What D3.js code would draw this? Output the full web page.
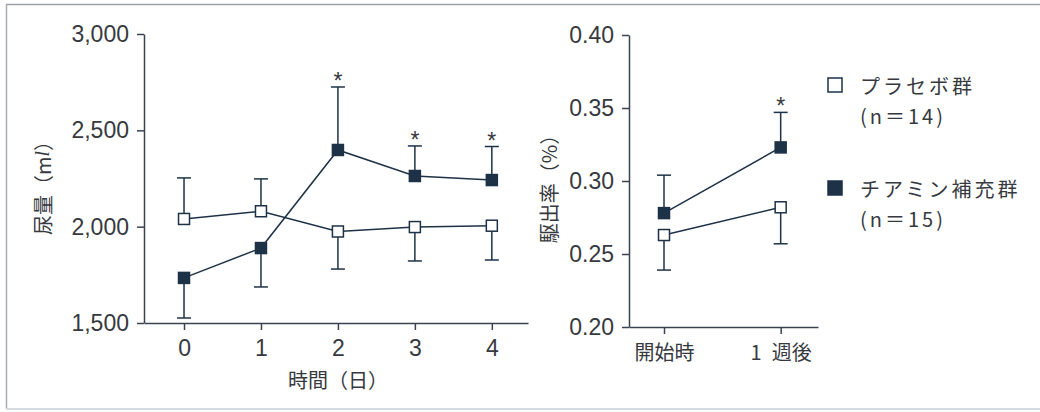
<!DOCTYPE html>
<html>
<head>
<meta charset="utf-8">
<script src="https://cdn.jsdelivr.net/npm/d3@7/dist/d3.min.js"></script>
<style>
  html, body { margin: 0; padding: 0; background: #fff; }
  svg { display: block; }
  .num { font-family: "Liberation Sans", Arial, sans-serif; font-size: 23px; fill: #36393e; }
  .jp { font-family: "Noto Sans CJK JP", sans-serif; fill: #36393e; }
</style>
</head>
<body>
<svg id="chart" width="1040" height="412"></svg>
<script>
// Urine volume by day (mean, one-sided SD bar)
const days = [0, 1, 2, 3, 4];
const placeboUrine = [2040, 2080, 1975, 1998, 2005];
const placeboUrineErr = [213, 168, 195, 176, 178];
const placeboUrineSide = [1, 1, -1, -1, -1];
const thiamineUrine = [1734, 1889, 2398, 2263, 2242];
const thiamineUrineErr = [208, 202, 327, 156, 174];
const thiamineUrineSide = [-1, -1, 1, 1, 1];
const urineSignificant = [false, false, true, true, true];
const urineTicks = [1500, 2000, 2500, 3000];

// Ejection fraction at start and after one week
const efLabels = ["開始時", "1\u2002週後"];
const placeboEF = [0.263, 0.282];
const placeboEFErr = [0.024, 0.025];
const placeboEFSide = [-1, -1];
const thiamineEF = [0.278, 0.323];
const thiamineEFErr = [0.026, 0.024];
const thiamineEFSide = [1, 1];
const efSignificant = [false, true];
const efTicks = [0.20, 0.25, 0.30, 0.35, 0.40];

const groupNames = ["プラセボ群", "チアミン補充群"];
const groupN = ["(n＝14)", "(n＝15)"];

const navy = "#1e3247";
const axisColor = "#3a4350";
const svg = d3.select("#chart");

// page frame
svg.append("line").attr("x1", 6).attr("x2", 1040).attr("y1", 4.5).attr("y2", 4.5)
  .attr("stroke", "#9a9ea3").attr("stroke-width", 1.5);
svg.append("line").attr("x1", 6.5).attr("x2", 6.5).attr("y1", 4).attr("y2", 409)
  .attr("stroke", "#a9adb2").attr("stroke-width", 1.5);
svg.append("line").attr("x1", 6).attr("x2", 1040).attr("y1", 409).attr("y2", 409)
  .attr("stroke", "#d5dde2").attr("stroke-width", 2);

function styleAxis(g) {
  g.selectAll("path.domain").attr("stroke", axisColor).attr("stroke-width", 1.5);
  g.selectAll(".tick line").attr("stroke", axisColor).attr("stroke-width", 1.5);
  g.selectAll(".tick text").attr("fill", "#36393e").attr("font-size", null).attr("font-family", null);
}

function drawSeries(g, x, y, xs, vals, errs, sides, filled) {
  const capHalf = 7;
  g.append("path")
    .datum(xs.map((d, i) => [x(d), y(vals[i])]))
    .attr("fill", "none").attr("stroke", navy).attr("stroke-width", 1.5)
    .attr("d", d3.line());
  const eb = g.append("g");
  xs.forEach((d, i) => {
    const end = y(vals[i] + sides[i] * errs[i]);
    eb.append("line").attr("x1", x(d)).attr("x2", x(d))
      .attr("y1", y(vals[i])).attr("y2", end)
      .attr("stroke", navy).attr("stroke-width", 1.5);
    eb.append("line").attr("x1", x(d) - capHalf).attr("x2", x(d) + capHalf)
      .attr("y1", end).attr("y2", end)
      .attr("stroke", navy).attr("stroke-width", 1.5);
  });
  const s = 11;
  g.append("g").selectAll("rect").data(xs).join("rect")
    .attr("x", d => x(d) - s / 2)
    .attr("y", (d, i) => y(vals[i]) - s / 2)
    .attr("width", s).attr("height", s)
    .attr("fill", filled ? navy : "#fff")
    .attr("stroke", navy).attr("stroke-width", 1.5);
}

function drawStars(g, x, y, xs, vals, errs, sides, sig) {
  xs.forEach((d, i) => {
    if (!sig[i]) return;
    const top = y(vals[i] + Math.max(0, sides[i]) * errs[i]);
    g.append("text").attr("class", "num")
      .attr("x", x(d)).attr("y", top + 2)
      .attr("text-anchor", "middle").attr("font-size", 25)
      .text("*");
  });
}

// ---- Left panel: urine volume ----
const xL = d3.scaleLinear().domain([-0.52, 4.47]).range([144, 528]);
const yL = d3.scaleLinear().domain([1500, 3000]).range([323, 34]);

const axL = svg.append("g").attr("class", "num").attr("transform", "translate(144,0)")
  .call(d3.axisLeft(yL).tickValues(urineTicks).tickFormat(d3.format(",")).tickSize(7).tickPadding(8).tickSizeOuter(0));
styleAxis(axL);
const axLB = svg.append("g").attr("class", "num").attr("transform", "translate(0,323)")
  .call(d3.axisBottom(xL).tickValues(days).tickFormat(d3.format("d")).tickSize(7).tickPadding(10).tickSizeOuter(0));
styleAxis(axLB);

const gL = svg.append("g");
drawSeries(gL, xL, yL, days, placeboUrine, placeboUrineErr, placeboUrineSide, false);
drawSeries(gL, xL, yL, days, thiamineUrine, thiamineUrineErr, thiamineUrineSide, true);
drawStars(gL, xL, yL, days, thiamineUrine, thiamineUrineErr, thiamineUrineSide, urineSignificant);

svg.append("text").attr("class", "jp").attr("font-size", 20)
  .attr("text-anchor", "middle").attr("x", 338).attr("y", 388)
  .text("時間（日）");

const yLabL = svg.append("text").attr("class", "jp").attr("font-size", 20)
  .attr("text-anchor", "middle").attr("dominant-baseline", "central")
  .attr("transform", "translate(42,183) rotate(-90)");
yLabL.append("tspan").text("尿量（m");
yLabL.append("tspan").attr("font-family", "Liberation Serif, serif").attr("font-style", "italic").text("l");
yLabL.append("tspan").text("）");

// ---- Right panel: ejection fraction ----
const idx = efLabels.map((d, i) => i);
const xR = d3.scaleLinear().domain([-0.3, 1.32]).range([629, 818]);
const yR = d3.scaleLinear().domain([0.20, 0.40]).range([327, 35]);

const axR = svg.append("g").attr("class", "num").attr("transform", "translate(629,0)")
  .call(d3.axisLeft(yR).tickValues(efTicks).tickFormat(d3.format(".2f")).tickSize(7).tickPadding(8).tickSizeOuter(0));
styleAxis(axR);
const axRB = svg.append("g").attr("class", "jp").attr("transform", "translate(0,327)")
  .call(d3.axisBottom(xR).tickValues(idx).tickFormat(i => efLabels[i]).tickSize(7).tickPadding(12).tickSizeOuter(0));
styleAxis(axRB);
axRB.selectAll(".tick text").attr("font-size", 20);

const gR = svg.append("g");
drawSeries(gR, xR, yR, idx, placeboEF, placeboEFErr, placeboEFSide, false);
drawSeries(gR, xR, yR, idx, thiamineEF, thiamineEFErr, thiamineEFSide, true);
drawStars(gR, xR, yR, idx, thiamineEF, thiamineEFErr, thiamineEFSide, efSignificant);

svg.append("text").attr("class", "jp").attr("font-size", 20)
  .attr("text-anchor", "middle").attr("dominant-baseline", "central")
  .attr("transform", "translate(548,184) rotate(-90)")
  .text("駆出率（%）");

// ---- Legend ----
const legend = svg.append("g");
const legendY = [85, 188];
[false, true].forEach((filled, i) => {
  legend.append("rect").attr("x", 828).attr("y", legendY[i] - 7)
    .attr("width", 14).attr("height", 14)
    .attr("fill", filled ? navy : "#fff").attr("stroke", navy).attr("stroke-width", 1.5);
  legend.append("text").attr("class", "jp").attr("font-size", 20)
    .attr("letter-spacing", 3)
    .attr("x", 860).attr("y", legendY[i]).attr("dominant-baseline", "central")
    .text(groupNames[i]);
  legend.append("text").attr("class", "jp").attr("font-size", 20)
    .attr("letter-spacing", 3)
    .attr("x", 860).attr("y", legendY[i] + 30).attr("dominant-baseline", "central")
    .text(groupN[i]);
});
</script>
</body>
</html>
